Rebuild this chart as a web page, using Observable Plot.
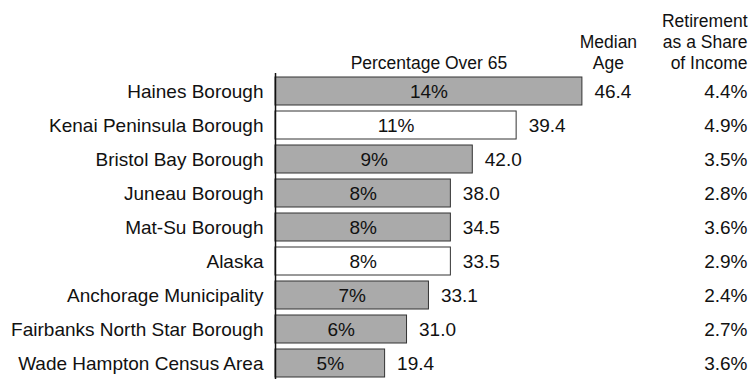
<!DOCTYPE html>
<html>
<head>
<meta charset="utf-8">
<script src="https://cdn.jsdelivr.net/npm/d3@7"></script>
<script src="https://cdn.jsdelivr.net/npm/@observablehq/plot@0.6"></script>
<style>
  html, body { margin: 0; padding: 0; background: #fff; overflow: hidden; }
  svg { font-family: "Liberation Sans", Arial, sans-serif; }
</style>
</head>
<body>
<div id="chart"></div>
<script>
const categories = ["Haines Borough", "Kenai Peninsula Borough", "Bristol Bay Borough", "Juneau Borough", "Mat-Su Borough", "Alaska", "Anchorage Municipality", "Fairbanks North Star Borough", "Wade Hampton Census Area"];
const pctOver65 = [14, 11, 9, 8, 8, 8, 7, 6, 5];
const medianAge = [46.4, 39.4, 42.0, 38.0, 34.5, 33.5, 33.1, 31.0, 19.4];
const retirementShare = [4.4, 4.9, 3.5, 2.8, 3.6, 2.9, 2.4, 2.7, 3.6];
const highlighted = ["Kenai Peninsula Borough", "Alaska"];

const headerPct = "Percentage Over 65";
const headerAge = "Median\nAge";
const headerRet = "Retirement\nas a Share\nof Income";

const rows = categories.map((c, i) => ({
  name: c,
  pct: pctOver65[i],
  age: medianAge[i],
  ret: retirementShare[i],
  hl: highlighted.includes(c)
}));
const maxPct = d3.max(pctOver65);

const chart = Plot.plot({
  width: 753,
  height: 379,
  marginLeft: 275,
  marginRight: 6,
  marginTop: 73,
  marginBottom: 0,
  style: { fontFamily: "Liberation Sans, Arial, sans-serif", background: "#fff", color: "#111" },
  x: { domain: [0, maxPct], range: [275, 581.9], axis: null },
  y: { domain: categories, range: [73, 381.7], paddingInner: 0.18, paddingOuter: 0.09, axis: null },
  marks: [
    Plot.barX(rows, { y: "name", x: "pct", fill: d => d.hl ? "#ffffff" : "#aaaaaa", stroke: "#333", strokeWidth: 1 }),
    Plot.ruleX([0], { stroke: "#111", strokeWidth: 1.5 }),
    Plot.text(rows, { y: "name", x: 0, text: "name", textAnchor: "end", dx: -12, fontSize: 19, fill: "#111" }),
    Plot.text(rows, { y: "name", x: d => d.pct / 2, text: d => d.pct + "%", fontSize: 19, fill: "#111" }),
    Plot.text(rows, { y: "name", x: "pct", text: d => d.age.toFixed(1), textAnchor: "start", dx: 12, fontSize: 19, fill: "#111" }),
    Plot.text(rows, { y: "name", frameAnchor: "right", text: d => d.ret.toFixed(1) + "%", textAnchor: "end", fontSize: 19, fill: "#111" }),
    Plot.text([headerPct], { x: maxPct / 2, frameAnchor: "top", text: d => d, lineAnchor: "bottom", dy: -5, fontSize: 17.5, fill: "#111" }),
    Plot.text([headerAge], { x: maxPct, frameAnchor: "top", text: d => d, lineAnchor: "bottom", dy: -5, dx: 26, lineHeight: 1.2, fontSize: 17.5, fill: "#111" }),
    Plot.text([headerRet], { frameAnchor: "top-right", text: d => d, textAnchor: "end", lineAnchor: "bottom", dy: -5, lineHeight: 1.2, fontSize: 17.5, fill: "#111" })
  ]
});
document.getElementById("chart").appendChild(chart);
</script>
</body>
</html>
